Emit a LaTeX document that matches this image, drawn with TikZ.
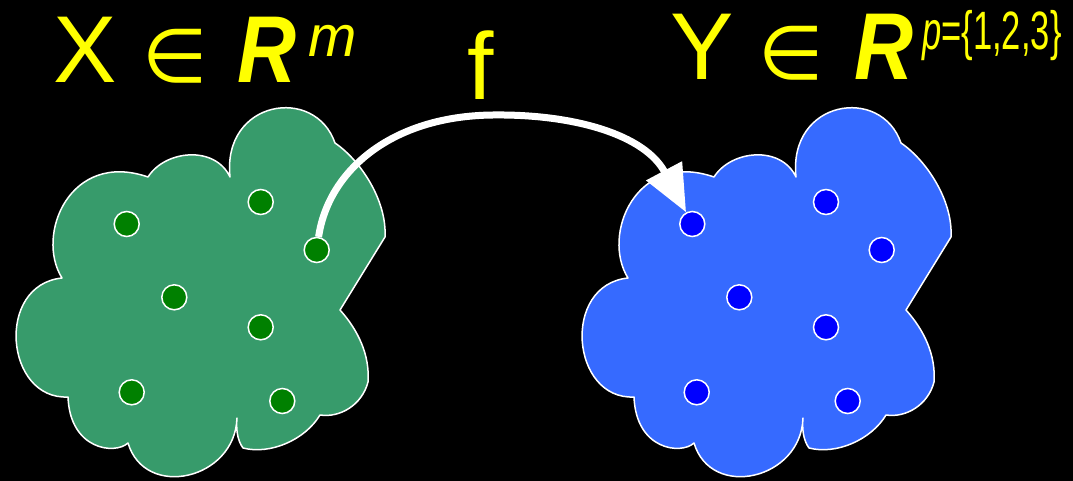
\documentclass[tikz,border=0pt]{standalone}
\usepackage{fontspec}
\setmainfont{Liberation Sans}
\newfontfamily\dejavu{DejaVu Sans}
\usetikzlibrary{arrows.meta}
\definecolor{cloudgreen}{RGB}{55,155,107}
\definecolor{cloudblue}{RGB}{54,106,255}
\definecolor{dotgreen}{RGB}{0,128,0}
\definecolor{dotblue}{RGB}{0,0,255}
\definecolor{titleyellow}{RGB}{255,255,0}
\begin{document}
\begin{tikzpicture}[x=1pt,y=-1pt,
  cloudshape/.pic={
    \path[draw=white,line width=1.5pt,line join=round,fill=#1]
      (230,177) .. controls (222,100) and (315,85) .. (335,143)
      .. controls (360,160) and (387,200) .. (385,237)
      -- (340,310)
      .. controls (358,330) and (370,355) .. (368,382)
      .. controls (362,405) and (340,418) .. (320,415)
      .. controls (305,440) and (270,455) .. (243,448)
      .. controls (237,440) and (236,428) .. (237,418)
      .. controls (235,480) and (145,500) .. (128,443)
      .. controls (115,455) and (70,450) .. (68,397)
      .. controls (5,400) and (-5,285) .. (62,278)
      .. controls (35,235) and (70,150) .. (148,177)
      .. controls (165,150) and (215,145) .. (230,177) -- cycle;
  },
  dotbase/.style={circle,draw=white,line width=1.5pt,minimum size=25pt,inner sep=0pt},
  gdot/.style={dotbase,fill=dotgreen},
  bdot/.style={dotbase,fill=dotblue},
  lbl/.style={text=titleyellow,inner sep=0pt,anchor=base west},
  big/.style={font=\fontsize{95}{95}\selectfont},
  realfont/.style={font=\bfseries\itshape\fontsize{95}{95}\selectfont},
  arrowline/.style={draw=white,line width=7pt,-{Triangle[length=47pt,width=39pt]}}
]
\fill[black] (0,0) rectangle (1073,481);
\useasboundingbox (0,0) rectangle (1073,481);

\pic at (0,0) {cloudshape=cloudgreen};
\pic at (566,0) {cloudshape=cloudblue};

\node[gdot] (g1) at (126.7,224) {};
\node[gdot] (g2) at (260.7,202) {};
\node[gdot] (g3) at (316.7,250) {};
\node[gdot] (g4) at (174.3,297.3) {};
\node[gdot] (g5) at (260.7,327.3) {};
\node[gdot] (g6) at (131.7,392.3) {};
\node[gdot] (g7) at (282.3,401) {};

\node[bdot] (b1) at (692.3,224) {};
\node[bdot] (b2) at (826,202) {};
\node[bdot] (b3) at (881.7,250) {};
\node[bdot] (b4) at (739.3,297.3) {};
\node[bdot] (b5) at (826,327.3) {};
\node[bdot] (b6) at (696.7,392.3) {};
\node[bdot] (b7) at (847.7,401) {};

\draw[arrowline] (g3) .. controls (328,172) and (390,116) .. (493,115)
  .. controls (575,114) and (645,135) .. (b1);

\node[lbl,big] (X) at (53,83) {X};
\node[lbl,font=\dejavu\fontsize{75}{75}\selectfont] (in1) at (142,83) {∈};
\node[lbl,realfont] (R1) at (237,83) {\scalebox{0.86}[1]{R}};
\node[lbl,font=\itshape\fontsize{58}{58}\selectfont] (m) at (308,57) {m};

\node[lbl,big] (f) at (467,100) {f};

\node[lbl,big] (Y) at (670,80) {Y};
\node[lbl,font=\dejavu\fontsize{75}{75}\selectfont] (in2) at (758,80) {∈};
\node[lbl,realfont] (R2) at (854,80) {\scalebox{0.86}[1]{R}};
\node[lbl,font=\fontsize{54}{54}\selectfont] (p) at (922,50) {\scalebox{0.64}[1]{\itshape p\upshape =\{1,2,3\}}};
\end{tikzpicture}
\end{document}
